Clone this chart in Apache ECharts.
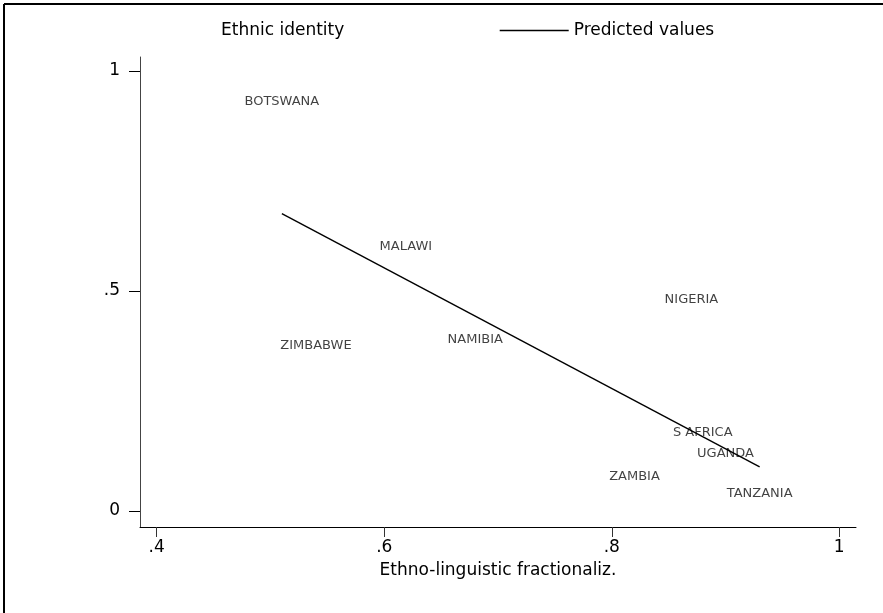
<!DOCTYPE html>
<html>
<head>
<meta charset="utf-8">
<script src="https://cdn.jsdelivr.net/npm/echarts@6/dist/echarts.min.js"></script>
<style>
  html, body { margin: 0; padding: 0; background: #fff; }
  #chart { width: 883px; height: 613px; }
</style>
</head>
<body>
<div id="chart"></div>
<script>
// countries (labels drawn at each point, no marker)
const countries = ["BOTSWANA", "MALAWI", "ZIMBABWE", "NAMIBIA", "NIGERIA", "S AFRICA", "UGANDA", "ZAMBIA", "TANZANIA"]
// ethno-linguistic fractionalization (x)
const fracValues = [0.510, 0.619, 0.540, 0.680, 0.870, 0.880, 0.900, 0.820, 0.930]
// ethnic identity (y)
const identityValues = [0.930, 0.601, 0.376, 0.390, 0.481, 0.179, 0.131, 0.078, 0.040]
// predicted values (fitted line ends)
const fitX = [0.510, 0.930]
const fitY = [0.676, 0.100]
// tick labels
const xTicks = [0.4, 0.6, 0.8, 1]
const xTickLabels = [".4", ".6", ".8", "1"]
const yTicks = [0, 0.5, 1]
const yTickLabels = ["0", ".5", "1"]

const fontName = "DejaVu Sans"
const bigFont = 17

let chart = echarts.init(document.getElementById("chart"), null, { renderer: "canvas" })

let scatterData = countries.map((c, i) => {
  return { name: c, value: [fracValues[i], identityValues[i]] }
})
let fitData = fitX.map((x, i) => [x, fitY[i]])

let option = {
  backgroundColor: "#ffffff",
  animation: false,
  textStyle: { fontFamily: fontName },
  graphic: [
    { type: "line", shape: { x1: 4, y1: 4, x2: 883, y2: 4 }, style: { stroke: "#000", lineWidth: 2 } },
    { type: "line", shape: { x1: 4, y1: 4, x2: 4, y2: 613 }, style: { stroke: "#000", lineWidth: 2 } }
  ],
  legend: [
    {
      data: [{ name: "Ethnic identity", icon: "none" }],
      left: 216,
      top: 22,
      padding: 0,
      itemWidth: 0,
      itemHeight: 14,
      textStyle: { fontSize: bigFont, color: "#000", fontFamily: fontName },
      selectedMode: false
    },
    {
      data: ["Predicted values"],
      left: 499,
      top: 22,
      padding: 0,
      itemWidth: 69,
      itemHeight: 14,
      itemStyle: { opacity: 0 },
      lineStyle: { color: "#000", width: 1.4 },
      textStyle: { fontSize: bigFont, color: "#000", fontFamily: fontName },
      selectedMode: false
    }
  ],
  grid: {
    left: 140,
    right: 27,
    top: 57,
    bottom: 86,
    containLabel: false
  },
  xAxis: {
    type: "value",
    min: 0.3853,
    max: 1.0147,
    name: "Ethno-linguistic fractionaliz.",
    nameLocation: "middle",
    nameGap: 35,
    nameTextStyle: { fontSize: bigFont, color: "#000", fontFamily: fontName },
    axisLine: { show: true, onZero: false, lineStyle: { color: "#000", width: 1 } },
    axisTick: { show: true, inside: false, length: 10, customValues: xTicks, lineStyle: { color: "#333" } },
    axisLabel: {
      customValues: xTicks,
      margin: 12,
      fontSize: bigFont,
      color: "#000",
      fontFamily: fontName,
      formatter: (v) => xTickLabels[xTicks.indexOf(v)]
    },
    splitLine: { show: false }
  },
  yAxis: {
    type: "value",
    min: -0.0364,
    max: 1.0318,
    axisLine: { show: true, onZero: false, lineStyle: { color: "#444", width: 1 } },
    axisTick: { show: true, inside: false, length: 11, customValues: yTicks, lineStyle: { color: "#000" } },
    axisLabel: {
      customValues: yTicks,
      margin: 20,
      fontSize: bigFont,
      color: "#000",
      fontFamily: fontName,
      formatter: (v) => yTickLabels[yTicks.indexOf(v)]
    },
    splitLine: { show: false }
  },
  series: [
    {
      name: "Ethnic identity",
      type: "scatter",
      data: scatterData,
      symbolSize: 1,
      itemStyle: { color: "rgba(0,0,0,0)" },
      label: {
        show: true,
        position: "inside",
        formatter: (p) => p.name,
        fontSize: 13,
        color: "#111",
        textBorderWidth: 0,
        fontFamily: fontName
      },
      emphasis: { disabled: true }
    },
    {
      name: "Predicted values",
      type: "line",
      data: fitData,
      symbol: "none",
      itemStyle: { color: "#000" },
      lineStyle: { color: "#000", width: 1.4 },
      emphasis: { disabled: true }
    }
  ]
}

chart.setOption(option)
</script>
</body>
</html>
